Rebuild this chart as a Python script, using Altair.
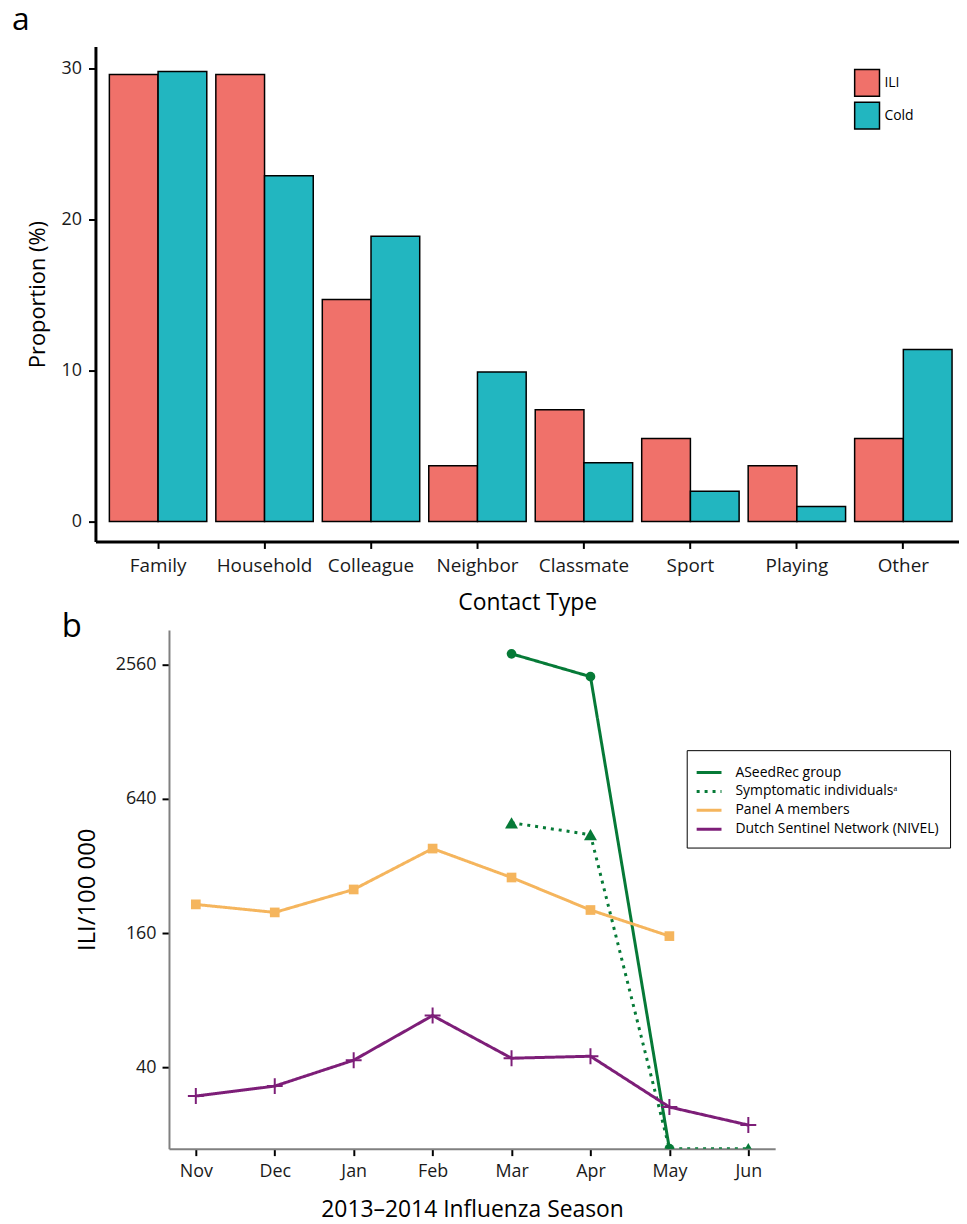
import altair as alt
import pandas as pd

FONT = "Open Sans"

# ---------------- panel a data ----------------
contact_types = ["Family", "Household", "Colleague", "Neighbor", "Classmate", "Sport", "Playing", "Other"]
groups = ["ILI", "Cold"]
ili_pct = [29.6, 29.6, 14.7, 3.7, 7.4, 5.5, 3.7, 5.5]
cold_pct = [29.8, 22.9, 18.9, 9.9, 3.9, 2.0, 1.0, 11.4]
group_colors = ["#F0716A", "#22B6C0"]
y_ticks_a = [0, 10, 20, 30]
y_domain_a = [-1.32, 31.45]

# ---------------- panel b data ----------------
months = ["Nov", "Dec", "Jan", "Feb", "Mar", "Apr", "May", "Jun"]
series_names = ["ASeedRec group", "Symptomatic individualsᵃ", "Panel A members",
                "Dutch Sentinel Network (NIVEL)"]
aseedrec = [None, None, None, None, 2865, 2263, 0, None]
symptomatic = [None, None, None, None, 500, 442, 0, 0]
panel_a = [215, 198, 251, 383, 284, 203, 155, None]
nivel = [29.7, 32.9, 43.0, 68.2, 43.9, 44.8, 26.5, 22.0]
series_colors = ["#067A37", "#067A37", "#F5B55D", "#7D1E78"]
series_dash = [[1, 0], [3, 5], [1, 0], [1, 0]]
series_shapes = ["circle", "triangle-up", "square", "M-1,0L1,0M0,-1L0,1"]
series_sizes = [95, 170, 95, 256]
y_ticks_b = [40, 160, 640, 2560]
y_domain_b = [17.24, 3667]

# ---------------- tables ----------------
bar_df = pd.DataFrame(
    [{"Contact": c, "Group": g, "Pct": v}
     for g, vals in zip(groups, [ili_pct, cold_pct])
     for c, v in zip(contact_types, vals)]
)

rows = []
for s, vals in zip(series_names, [aseedrec, symptomatic, panel_a, nivel]):
    for m, v in zip(months, vals):
        if v is None:
            continue
        # zero counts cannot sit on a log axis: drawn on the axis floor
        rows.append({"Month": m, "Series": s, "Value": v,
                     "Plot": v if v > 0 else y_domain_b[0]})
line_df = pd.DataFrame(rows)

# ---------------- panel a ----------------
top = alt.Chart(bar_df).mark_bar(stroke="black", strokeWidth=1.5).encode(
    x=alt.X("Contact:N", sort=contact_types,
            scale=alt.Scale(paddingInner=0.085, paddingOuter=0.098, align=0.667),
            axis=alt.Axis(title="Contact Type", labelAngle=0, bandPosition=0.5,
                          domainColor="black", domainWidth=3, tickColor="black",
                          tickWidth=2, tickSize=7, labelFontSize=19, labelPadding=8,
                          titleFontSize=23, titlePadding=16)),
    xOffset=alt.XOffset("Group:N", sort=groups,
                        scale=alt.Scale(paddingInner=0, paddingOuter=0)),
    y=alt.Y("Pct:Q", scale=alt.Scale(domain=y_domain_a, nice=False),
            axis=alt.Axis(title="Proportion (%)", values=y_ticks_a, grid=False,
                          domainColor="black", domainWidth=3, tickColor="black",
                          tickWidth=2, tickSize=7, labelFontSize=18, labelPadding=7,
                          titleFontSize=22, titlePadding=12)),
    y2=alt.datum(0),
    color=alt.Color("Group:N", sort=groups,
                    scale=alt.Scale(domain=groups, range=group_colors),
                    legend=alt.Legend(title=None, orient="none", legendX=850, legendY=25,
                                      symbolType="M-1.163,-1.256H1.163V1.256H-1.163Z",
                                      symbolSize=462,
                                      symbolStrokeColor="black", symbolStrokeWidth=1.5,
                                      symbolOpacity=1, labelFontSize=14, labelOffset=6,
                                      rowPadding=0, padding=0)),
).properties(
    width=869, height=498,
    title=alt.TitleParams("a", anchor="start", frame="group", dx=-84, fontSize=32,
                          fontWeight="normal", baseline="alphabetic", offset=-15),
)

# ---------------- panel b ----------------
x_b = alt.X("Month:N", sort=months, scale=alt.Scale(type="point", padding=0.34),
            axis=alt.Axis(title="2013–2014 Influenza Season", labelAngle=0,
                          domainColor="#808080", domainWidth=2, tickColor="black",
                          tickWidth=2, tickSize=7, labelFontSize=18, labelPadding=7,
                          titleFontSize=23, titlePadding=18))
y_b = alt.Y("Plot:Q", scale=alt.Scale(type="log", base=2, domain=y_domain_b, nice=False),
            axis=alt.Axis(title="ILI/100 000", values=y_ticks_b, format="d", grid=False,
                          domainColor="#808080", domainWidth=2, tickColor="black",
                          tickWidth=2, tickSize=7, labelFontSize=18, labelPadding=6,
                          titleFontSize=24, titlePadding=16))

leg_b = alt.Legend(title=None, orient="none", legendX=680, legendY=121,
                   symbolType="M-1.25,0H1.25", symbolSize=400, symbolStrokeWidth=3,
                   labelFontSize=14, labelOffset=15, rowPadding=-3.5, padding=11,
                   strokeColor="black", fillColor="white", labelLimit=400)

base = alt.Chart(line_df)
lines = base.mark_line(strokeWidth=3, clip=True).encode(
    x=x_b, y=y_b,
    color=alt.Color("Series:N", sort=series_names,
                    scale=alt.Scale(domain=series_names, range=series_colors), legend=leg_b),
    strokeDash=alt.StrokeDash("Series:N", sort=series_names,
                              scale=alt.Scale(domain=series_names, range=series_dash),
                              legend=leg_b),
)

marker_layers = []
for name, shape, size, col in zip(series_names, series_shapes, series_sizes, series_colors):
    is_cross = shape.startswith("M")
    marker_layers.append(
        base.transform_filter(alt.datum.Series == name).mark_point(
            shape=shape, filled=not is_cross, size=size, color=col, opacity=1,
            strokeWidth=2, clip=True
        ).encode(x=x_b, y=y_b)
    )

bottom = alt.layer(lines, *marker_layers).properties(
    width=610, height=522,
    title=alt.TitleParams("b", anchor="start", frame="group", dx=-108, fontSize=33,
                          fontWeight="normal", baseline="alphabetic", offset=-40),
)


def spacer(w):
    return alt.Chart(pd.DataFrame({"s": [0]})).mark_rect(opacity=0).encode(
        x=alt.value(0), x2=alt.value(w), y=alt.value(0), y2=alt.value(1)
    ).properties(width=w, height=1)


chart = alt.vconcat(
    alt.hconcat(spacer(1), top, spacing=0),
    alt.hconcat(spacer(51), bottom, spacing=0),
    spacing=-3,
).resolve_scale(
    color="independent", strokeDash="independent", x="independent", y="independent"
).resolve_legend(
    color="independent", strokeDash="independent"
).properties(
    padding={"left": 3, "top": -8, "right": 0, "bottom": 5}
).configure(font=FONT).configure_view(stroke=None).configure_axis(
    labelFont=FONT, titleFont=FONT, labelColor="#1a1a1a", titleColor="black",
    titleFontWeight="normal", grid=False
).configure_legend(labelFont=FONT, labelColor="black").configure_title(font=FONT, color="black")

chart.save("out.html", embed_options={"renderer": "svg", "actions": False})
